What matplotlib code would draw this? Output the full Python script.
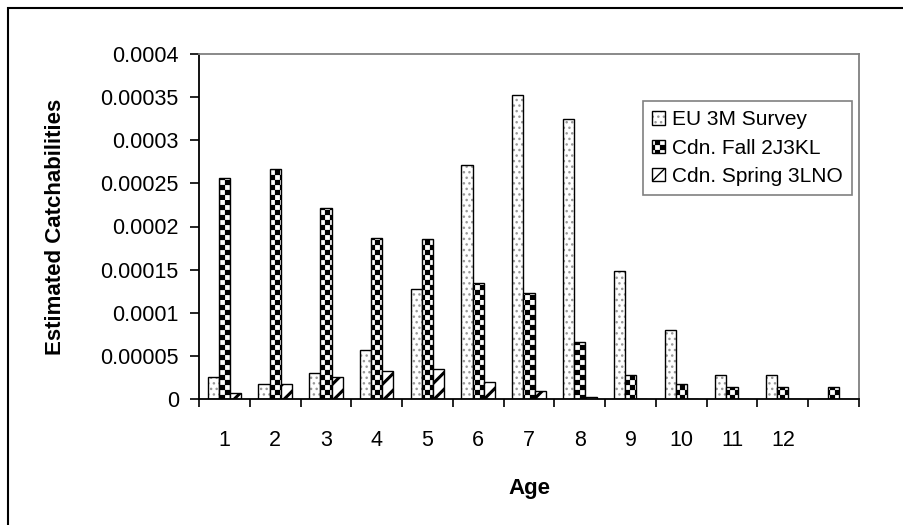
import warnings
import numpy as np
import matplotlib
matplotlib.use('Agg')
import matplotlib.pyplot as plt
import matplotlib.hatch as mhatch
from matplotlib.path import Path
from matplotlib.patches import Rectangle

warnings.filterwarnings('ignore')

ages = ['1', '2', '3', '4', '5', '6', '7', '8', '9', '10', '11', '12', '']
eu_3m = [2.6e-5, 1.7e-5, 3.0e-5, 5.7e-5, 1.28e-4, 2.71e-4, 3.53e-4,
         3.25e-4, 1.48e-4, 8.0e-5, 2.8e-5, 2.8e-5, 0]
cdn_fall = [2.56e-4, 2.67e-4, 2.22e-4, 1.87e-4, 1.86e-4, 1.35e-4, 1.23e-4,
            6.6e-5, 2.8e-5, 1.7e-5, 1.35e-5, 1.35e-5, 1.35e-5]
cdn_spring = [7.5e-6, 1.7e-5, 2.6e-5, 3.2e-5, 3.5e-5, 2.0e-5, 9e-6,
              2.5e-6, 0, 0, 0, 0, 0]
series_names = ['EU 3M Survey', 'Cdn. Fall 2J3KL', 'Cdn. Spring 3LNO']
yticks = [0, 0.00005, 0.0001, 0.00015, 0.0002, 0.00025, 0.0003, 0.00035, 0.0004]
ytick_labels = ['0', '0.00005', '0.0001', '0.00015', '0.0002',
                '0.00025', '0.0003', '0.00035', '0.0004']


# checkerboard hatch, triggered by '#'
class CheckerHatch(mhatch.HatchPatternBase):
    filled = True

    def __init__(self, hatch, density):
        self.n = hatch.count('#') * 20
        self.num_vertices = (self.n * self.n // 2) * 5

    def set_vertices_and_codes(self, vertices, codes):
        s = 1.0 / self.n
        d = 0.006  # shrink for the hatch stroke
        k = 0
        for i in range(self.n):
            for j in range(self.n):
                if (i + j) % 2:
                    continue
                x0, y0 = i * s + d, j * s + d
                x1, y1 = (i + 1) * s - d, (j + 1) * s - d
                vertices[k:k + 5] = [[x0, y0], [x1, y0], [x1, y1], [x0, y1], [x0, y0]]
                codes[k:k + 5] = [Path.MOVETO, Path.LINETO, Path.LINETO,
                                  Path.LINETO, Path.CLOSEPOLY]
                k += 5


mhatch._hatch_types.append(CheckerHatch)

plt.rcParams['font.family'] = ['Liberation Sans', 'DejaVu Sans']
plt.rcParams['hatch.linewidth'] = 1.0

fig = plt.figure(figsize=(9.04, 5.25), dpi=100)
ax = fig.add_axes([199 / 904, 1 - 399 / 525, 660 / 904, 345 / 525])

x = np.arange(len(ages))
w = 0.22
b1 = ax.bar(x - w, eu_3m, w, color='white', edgecolor='black', lw=1.0,
            hatch='...', label=series_names[0])
b2 = ax.bar(x, cdn_fall, w, color='white', edgecolor='black', lw=1.0,
            hatch='#', label=series_names[1])
with plt.rc_context({'hatch.linewidth': 2.2}):
    b3 = ax.bar(x + w, cdn_spring, w, color='white', edgecolor='black', lw=1.0,
                hatch='//', label=series_names[2])
for p in b1:
    p._hatch_color = (0.6, 0.6, 0.6, 1.0)
for p in b3:
    if hasattr(p, 'set_hatch_linewidth'):
        p.set_hatch_linewidth(2.2)

ax.set_xlim(-0.5, len(ages) - 0.5)
ax.set_ylim(0, 0.0004)
ax.set_yticks(yticks)
ax.set_yticklabels(ytick_labels)
ax.set_xticks(x)
ax.set_xticklabels(ages)
ax.set_xticks(np.arange(len(ages) + 1) - 0.5, minor=True)
ax.tick_params(axis='x', which='major', length=0, pad=22, labelsize=15.5)
ax.tick_params(axis='x', which='minor', length=6, width=1.2, direction='out')
ax.tick_params(axis='y', length=6.5, width=1.2, direction='out', pad=8, labelsize=15.5)

for side in ['left', 'bottom']:
    ax.spines[side].set_linewidth(1.3)
for side in ['top', 'right']:
    ax.spines[side].set_color('#808080')
    ax.spines[side].set_linewidth(1.3)

ax.set_xlabel('Age', fontsize=16, fontweight='bold', labelpad=20)
ax.set_ylabel('Estimated Catchabilities', fontsize=16, fontweight='bold')
ax.yaxis.set_label_coords(-0.2015, 0.5)

leg = ax.legend(loc='upper right', bbox_to_anchor=(0.9894, 0.8638), fontsize=15,
                frameon=True, fancybox=False, edgecolor='#606060',
                handlelength=0.6, handleheight=0.6, handletextpad=0.35,
                labelspacing=0.45, borderpad=0.45, borderaxespad=0)
leg.get_frame().set_linewidth(1.2)

fig.add_artist(Rectangle((8 / 904, -0.1), 1.2, 1.1 - 8 / 525, transform=fig.transFigure,
                         fill=False, edgecolor='black', lw=1.5))

fig.savefig('out.png', dpi=100)
